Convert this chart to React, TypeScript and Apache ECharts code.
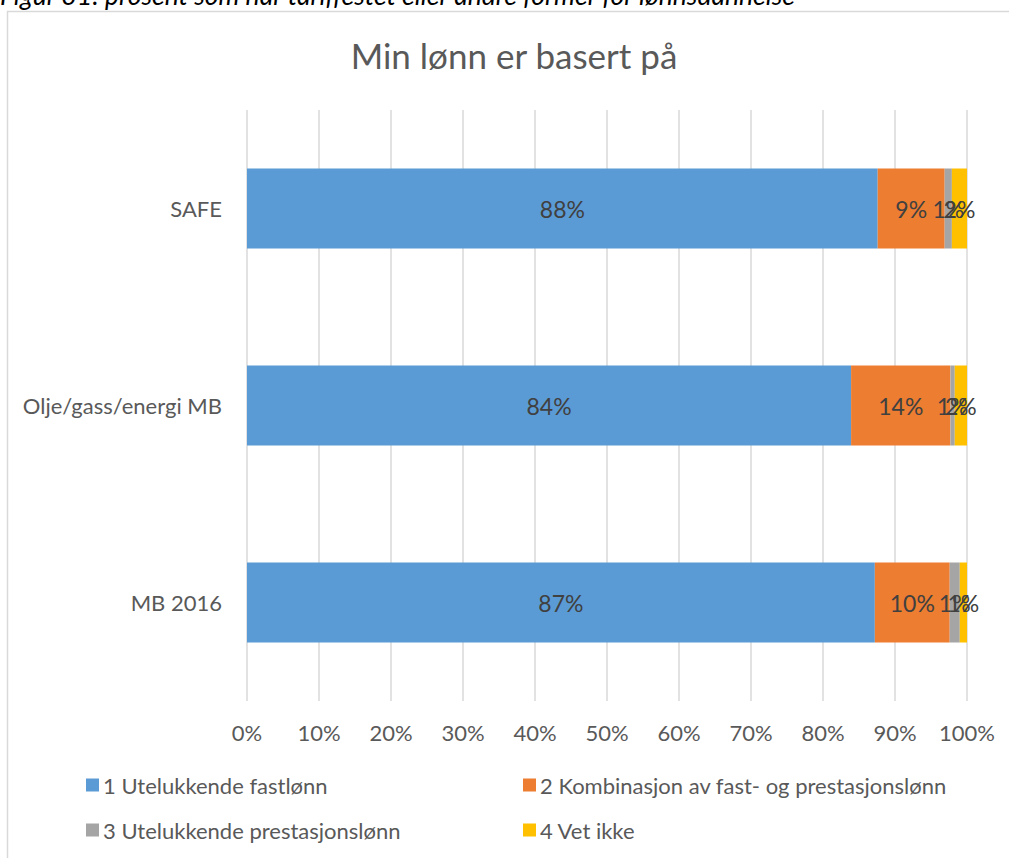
import React, { useEffect, useRef } from "react";
import * as echarts from "echarts";

const categories = ["SAFE", "Olje/gass/energi MB", "MB 2016"];
const seriesNames = [
  "1 Utelukkende fastlønn",
  "2 Kombinasjon av fast- og prestasjonslønn",
  "3 Utelukkende prestasjonslønn",
  "4 Vet ikke",
];
const fastlonn = [87.6, 83.9, 87.2];
const kombinasjon = [9.3, 13.8, 10.4];
const prestasjon = [1.0, 0.6, 1.4];
const vetIkke = [2.1, 1.7, 1.0];
const colors = ["#5B9BD5", "#ED7D31", "#A5A5A5", "#FFC000"];
const xTicks = [0, 10, 20, 30, 40, 50, 60, 70, 80, 90, 100];

const FONT = "Lato, 'Open Sans', sans-serif";

export default function App() {
  const ref = useRef<HTMLDivElement>(null);
  useEffect(() => {
    if (!ref.current) return;
    const chart = echarts.init(ref.current, undefined, { renderer: "svg" });
    const values = [fastlonn, kombinasjon, prestasjon, vetIkke];
    const legendPos = [
      { left: 86, top: 774 },
      { left: 523, top: 774 },
      { left: 86, top: 819 },
      { left: 523, top: 819 },
    ];
    chart.setOption({
      animation: false,
      backgroundColor: "#fff",
      textStyle: { fontFamily: FONT },
      title: {
        text: "Min lønn er basert på",
        left: 509,
        textAlign: "center",
        top: 32,
        textStyle: { fontSize: 35, fontWeight: "normal", color: "#595959", fontFamily: FONT },
      },
      graphic: [
        {
          type: "rect",
          shape: { x: 7.5, y: 11.5, width: 1100, height: 900 },
          style: { fill: "none", stroke: "#D9D9D9", lineWidth: 1.5 },
          silent: true,
        },
        {
          type: "text",
          x: 0,
          y: 8,
          style: {
            text: "Figur 31: prosent som har tariffestet eller andre former for lønnsdannelse",
            fontSize: 26.5,
            fontStyle: "italic",
            fontFamily: FONT,
            fill: "#000",
            verticalAlign: "bottom",
          },
        },
      ],
      legend: seriesNames.map((name, i) => ({
        data: [name],
        left: legendPos[i].left,
        top: legendPos[i].top,
        itemWidth: 13,
        itemHeight: 13,
        itemGap: 0,
        icon: "rect",
        textStyle: { fontSize: 22, color: "#595959", fontFamily: FONT, padding: [0, 0, 0, -1] },
        padding: 0,
      })),
      grid: { left: 247, right: 42, top: 110, bottom: 157, containLabel: false },
      xAxis: {
        type: "value",
        min: 0,
        max: 100,
        interval: 10,
        axisLine: { show: false },
        axisTick: { show: false },
        splitLine: { show: true, lineStyle: { color: "#D9D9D9", width: 1.5 } },
        axisLabel: {
          formatter: (v: number) => (xTicks.includes(v) ? v + "%" : ""),
          fontSize: 22,
          color: "#595959",
          margin: 20,
          fontFamily: FONT,
        },
      },
      yAxis: {
        type: "category",
        data: categories,
        inverse: true,
        axisLine: { show: false },
        axisTick: { show: false },
        axisLabel: { fontSize: 22, color: "#595959", margin: 25, fontFamily: FONT },
      },
      series: seriesNames.map((name, i) => ({
        name,
        type: "bar",
        stack: "total",
        barWidth: 80,
        data: values[i],
        itemStyle: { color: colors[i] },
        label: {
          show: true,
          position: "inside",
          formatter: (p: any) => Math.round(p.value) + "%",
          fontSize: 23,
          color: "#404040",
          fontFamily: FONT,
        },
      })),
    });
    return () => chart.dispose();
  }, []);
  return (
    <div
      ref={ref}
      style={{ position: "fixed", left: 0, top: 0, width: 1009, height: 858 }}
    />
  );
}
